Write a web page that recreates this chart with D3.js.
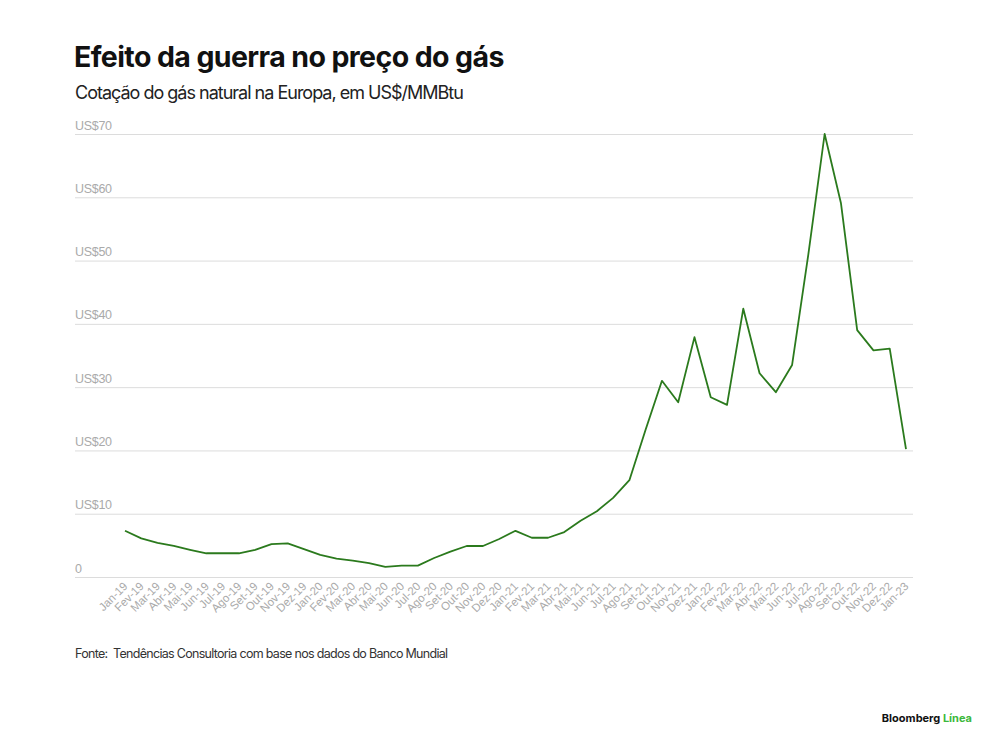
<!DOCTYPE html>
<html>
<head>
<meta charset="utf-8">
<script src="https://cdn.jsdelivr.net/npm/d3@7"></script>
<style>
  body { margin: 0; background: #fff; }
  svg { display: block; font-family: Inter, "Liberation Sans", sans-serif; }
  .title { font-size: 28.5px; font-weight: 700; fill: #111; letter-spacing: -0.6px; }
  .subtitle { font-size: 18px; fill: #222; letter-spacing: -1px; }
  .grid line { stroke: #dcdcdc; stroke-width: 1; }
  .grid text { fill: #aaa; font-size: 12.5px; letter-spacing: -0.3px; }
  .xaxis text { fill: #aaa; font-size: 11.5px; }
  .source { font-size: 12.5px; fill: #333; letter-spacing: -0.7px; }
  .brand { font-size: 11px; font-weight: 700; }
</style>
</head>
<body>
<div class="container"></div>
<script>
var months = [
  'Jan-19','Fev-19','Mar-19','Abr-19','Mai-19','Jun-19','Jul-19','Ago-19','Set-19','Out-19','Nov-19','Dez-19',
  'Jan-20','Fev-20','Mar-20','Abr-20','Mai-20','Jun-20','Jul-20','Ago-20','Set-20','Out-20','Nov-20','Dez-20',
  'Jan-21','Fev-21','Mar-21','Abr-21','Mai-21','Jun-21','Jul-21','Ago-21','Set-21','Out-21','Nov-21','Dez-21',
  'Jan-22','Fev-22','Mar-22','Abr-22','Mai-22','Jun-22','Jul-22','Ago-22','Set-22','Out-22','Nov-22','Dez-22',
  'Jan-23'
];

var prices = [
  7.3, 6.1, 5.4, 4.9, 4.3, 3.75, 3.75, 3.75, 4.3, 5.2, 5.3, 4.4,
  3.5, 2.9, 2.6, 2.2, 1.6, 1.8, 1.8, 3.0, 4.0, 4.9, 4.9, 6.0,
  7.3, 6.2, 6.2, 7.1, 8.9, 10.4, 12.5, 15.3, 23.3, 31.0, 27.6, 37.9,
  28.4, 27.2, 42.4, 32.2, 29.2, 33.5, 51.0, 70.0, 59.1, 39.0, 35.8, 36.1,
  20.2
];

var yTicks = [0, 10, 20, 30, 40, 50, 60, 70];

var WIDTH = 1000,
    HEIGHT = 747,
    LEFT = 75,
    RIGHT = 913;

var svg = d3
  .select('.container')
  .append('svg')
  .attr('width', WIDTH)
  .attr('height', HEIGHT);

var x = d3.scalePoint().domain(months).range([125, 906]);
var y = d3.scaleLinear().domain([0, 70]).range([577, 134]);

svg.append('text').attr('class', 'title').attr('x', 74).attr('y', 67)
  .text('Efeito da guerra no preço do gás');
svg.append('text').attr('class', 'subtitle').attr('x', 75).attr('y', 99)
  .text('Cotação do gás natural na Europa, em US$/MMBtu');

// gridlines with labels sitting on top of them
var grid = svg.append('g')
  .attr('class', 'grid')
  .attr('transform', 'translate(' + LEFT + ',0)')
  .call(d3.axisRight(y)
    .tickValues(yTicks)
    .tickSize(RIGHT - LEFT)
    .tickFormat(function(d) { return d === 0 ? '0' : 'US$' + d; }));
grid.select('.domain').remove();
grid.selectAll('text')
  .attr('x', 0)
  .attr('dy', -5)
  .attr('text-anchor', 'start');

var xAxis = svg.append('g')
  .attr('class', 'xaxis')
  .attr('transform', 'translate(0,584)')
  .call(d3.axisBottom(x).tickSize(0));
xAxis.select('.domain').remove();
xAxis.selectAll('text')
  .attr('x', 0)
  .attr('y', 0)
  .attr('dy', '0.35em')
  .attr('text-anchor', 'end')
  .attr('transform', 'rotate(-45)');

var line = d3.line()
  .x(function(d, i) { return x(months[i]); })
  .y(function(d) { return y(d); });

svg.append('path')
  .datum(prices)
  .attr('fill', 'none')
  .attr('stroke', '#2b7a1d')
  .attr('stroke-width', 1.8)
  .attr('stroke-linejoin', 'round')
  .attr('d', line);

svg.append('text').attr('class', 'source').attr('x', 75).attr('y', 658)
  .text('Fonte:\u00a0 Tendências Consultoria com base nos dados do Banco Mundial');

var brand = svg.append('text').attr('class', 'brand').attr('x', 972).attr('y', 722)
  .attr('text-anchor', 'end');
brand.append('tspan').attr('fill', '#111').text('Bloomberg ');
brand.append('tspan').attr('fill', '#3cb83c').text('Línea');
</script>
</body>
</html>
